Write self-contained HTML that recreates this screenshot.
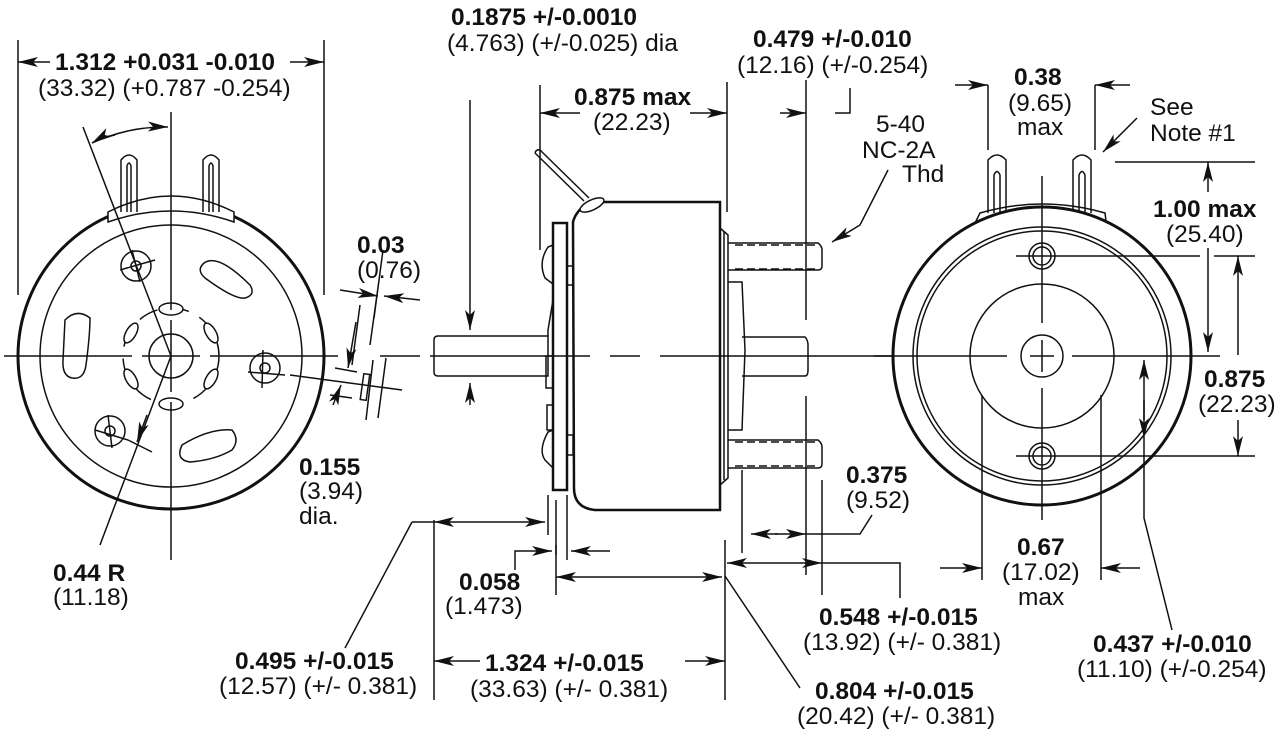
<!DOCTYPE html>
<html><head><meta charset="utf-8"><style>
html,body{margin:0;padding:0;background:#fff;width:1279px;height:735px;overflow:hidden}
svg{display:block}
text{font-family:"Liberation Sans",Arial,sans-serif;font-size:24.5px;fill:#111}
.b{font-weight:bold}
</style></head><body>
<svg width="1279" height="735" viewBox="0 0 1279 735" xmlns="http://www.w3.org/2000/svg">
<defs>
<marker id="a" viewBox="0 0 20 10" refX="20" refY="5" markerWidth="20" markerHeight="10" markerUnits="userSpaceOnUse" orient="auto">
<path d="M0,0 L20,5 L0,10 L5,5 Z" fill="#111"/></marker>
</defs>
<g fill="none" stroke="#111" stroke-width="1.5">
<!-- LEFT VIEW -->
<circle cx="171" cy="356" r="153" stroke-width="3"/>
<circle cx="171" cy="356" r="131"/>
<circle cx="171" cy="356" r="22"/>
<circle cx="171" cy="356" r="48" stroke-dasharray="20 12"/>
<path d="M108,212 Q171,180 234,212 L234,222 Q171,200 108,222 Z" fill="#fff"/>
<path d="M121,212 L121,160 Q129,150 137,160 L137,212 M127,212 L127,166 Q129,160 131,166 L131,212"/>
<path d="M203,212 L203,160 Q211,150 219,160 L219,212 M209,212 L209,166 Q211,160 213,166 L213,212"/>
<path d="M204,263 Q218,253 250,285 Q256,295 245,298 Q235,300 205,278 Q196,270 204,263 Z"/>
<path d="M65,320 Q77,308 90,318 Q90,335 86,365 Q84,380 72,378 Q62,376 63,360 Z"/>
<path d="M182,445 Q210,428 232,430 Q240,440 232,450 Q215,460 190,462 Q175,460 182,445 Z"/>
<ellipse cx="171" cy="309" rx="12" ry="6" fill="#fff"/><ellipse cx="171" cy="404" rx="12" ry="6" fill="#fff"/>
<ellipse cx="131" cy="333" rx="5" ry="11" transform="rotate(30 131 333)" fill="#fff"/><ellipse cx="211" cy="333" rx="5" ry="11" transform="rotate(-30 211 333)" fill="#fff"/>
<ellipse cx="131" cy="379" rx="5" ry="11" transform="rotate(-30 131 379)" fill="#fff"/><ellipse cx="211" cy="379" rx="5" ry="11" transform="rotate(30 211 379)" fill="#fff"/>
<circle cx="136" cy="266" r="15"/><circle cx="136" cy="266" r="5"/><circle cx="265" cy="368" r="15"/><circle cx="265" cy="368" r="5"/><circle cx="110" cy="431" r="15"/><circle cx="110" cy="431" r="5"/>
<path d="M120,270 L155,260 M132,250 L140,282 M248,372 L285,375 M263,350 L262,388 M95,430 L128,440 M108,415 L112,448 M128,440 L152,452"/>
<path d="M4,356 L132,356 M142,356 L200,356 M210,356 L338,356" />
<path d="M171,112 L171,310 M171,320 L171,392 M171,402 L171,560"/>
<path d="M83,127 L171,356 L100,545"/>
<path d="M147,415 L137,442" marker-end="url(#a)"/>
<path d="M115,135 Q100,138 92,143" marker-end="url(#a)"/>
<path d="M92,143 Q130,126 168,127" marker-end="url(#a)"/>
<path d="M18,40 L18,295 M324,40 L324,295"/>
<path d="M50,62 L18,62" marker-end="url(#a)"/>
<path d="M290,62 L324,62" marker-end="url(#a)"/>
<!-- .03 / .155 details -->
<path d="M352,365 L360,305 M370,345 L380,273 M383,250 L374,318"/>
<path d="M340,290 L378,296" marker-end="url(#a)"/><path d="M420,300 L384,296" marker-end="url(#a)"/>
<path d="M356,322 L348,368" marker-end="url(#a)"/><path d="M333,405 L341,385" marker-end="url(#a)"/>
<path d="M335,368 L357,372 M330,395 L352,398 M290,375 L402,390"/>
<rect x="362" y="374" width="6" height="26" transform="rotate(8 365 387)"/>
<path d="M366,420 L373,360 M378,418 L386,358"/>
<!-- SIDE VIEW -->
<path d="M380,356 L420,356 M430,356 L590,356 M610,356 L640,356 M660,356 L920,356"/>
<path d="M434,340 Q434,336 438,336 L548,336 L548,376 L438,376 Q434,376 434,372 Z"/>
<path d="M553,223 L567,223 L567,490 L553,490 Z" stroke-width="2.5"/>
<path d="M567,266 L573,266 L573,285 L567,285 M567,435 L573,435 L573,455 L567,455"/>
<path d="M573,222 Q576,210 590,202 L720,202 L720,510 L595,510 Q574,508 574,488 Z" stroke-width="2.5"/>
<path d="M553,245 L548,247 Q538,262 545,278 L553,284 M553,430 L548,432 Q538,450 545,460 L553,468"/>
<path d="M548,336 L548,330 L553,300"/>
<path d="M546,356 L553,356 L553,388 L546,388 Z M547,405 L553,405 L553,430 L547,430 Z"/>
<path d="M535,153 L584,201 M540,150 L589,198 M535,153 Q536,149 540,150"/>
<ellipse cx="592" cy="205" rx="13" ry="5" transform="rotate(-25 592 205)" fill="#fff"/>
<path d="M720,228 L728,235 L728,478 L720,485 M724,232 L724,480"/>
<path d="M728,282 L742,282 L745,350 L742,430 L728,430"/>
<path d="M742,337 L805,337 Q808,340 808,345 L808,370 Q808,376 805,376 L742,376"/>
<path d="M728,243 L818,243 Q822,246 822,250 L822,266 Q822,270 818,270 L728,270 M728,440 L818,440 Q822,443 822,447 L822,464 Q822,468 818,468 L728,468"/>
<path d="M735,245 L818,245 M735,269 L818,269 M735,442 L818,442 M735,466 L818,466" stroke-dasharray="8 4"/>
<!-- side dims -->
<path d="M540,85 L540,250 M727,82 L727,212 M806,80 L806,320 M806,396 L806,575 M434,520 L434,700 M725,540 L725,700"/>
<path d="M470,100 L470,330" marker-end="url(#a)"/><path d="M470,405 L470,383" marker-end="url(#a)"/>
<path d="M580,113 L540,113" marker-end="url(#a)"/><path d="M690,113 L727,113" marker-end="url(#a)"/>
<path d="M780,113 L806,113" marker-end="url(#a)"/><path d="M850,88 L850,113 L835,113" />
<path d="M490,522 L434,522" marker-end="url(#a)"/><path d="M490,522 L545,522" marker-end="url(#a)"/>
<path d="M548,495 L548,535 M556,500 L556,555 M567,495 L567,560"/>
<path d="M515,570 L515,551 L552,551" marker-end="url(#a)"/><path d="M610,551 L571,551" marker-end="url(#a)"/>
<path d="M556,545 L556,595"/>
<path d="M640,577 L556,577" marker-end="url(#a)"/><path d="M640,577 L722,577" marker-end="url(#a)"/>
<path d="M480,661 L434,661" marker-end="url(#a)"/><path d="M685,661 L725,661" marker-end="url(#a)"/>
<path d="M725,576 L800,688"/>
<path d="M412,522 L434,522 M412,522 L345,648"/>
<path d="M775,563 L727,563" marker-end="url(#a)"/><path d="M775,563 L822,563" marker-end="url(#a)"/>
<path d="M822,480 L822,595 M822,563 L900,563 L900,598"/>
<path d="M742,470 L742,553"/>
<path d="M778,534 L751,534" marker-end="url(#a)"/><path d="M775,534 L806,534" marker-end="url(#a)"/>
<path d="M806,534 L860,534 L872,515"/>
<path d="M888,170 L860,225 L832,242" marker-end="url(#a)"/>
<!-- RIGHT VIEW -->
<path d="M980,213 Q1042,195 1105,213 L1106,221 L976,221 Z" fill="#fff"/>
<path d="M988,213 L988,160 Q997,150 1006,160 L1006,213 M994,213 L994,175 Q997,168 1000,175 L1000,213"/>
<path d="M1073,213 L1073,160 Q1082,150 1091,160 L1091,213 M1079,213 L1079,175 Q1082,168 1085,175 L1085,213"/>
<circle cx="1042" cy="356" r="149" stroke-width="3" fill="#fff"/>
<circle cx="1042" cy="356" r="129"/><circle cx="1042" cy="356" r="125"/>
<circle cx="1042" cy="356" r="72"/><circle cx="1042" cy="356" r="21"/>
<circle cx="1042" cy="256" r="13"/><circle cx="1042" cy="256" r="9"/>
<circle cx="1042" cy="456" r="13"/><circle cx="1042" cy="456" r="9"/>
<path d="M1042,176 L1042,323 M1042,340 L1042,372 M1042,388 L1042,520 M874,356 L1007,356 M1030,356 L1054,356 M1072,356 L1220,356"/>
<path d="M1016,256 L1200,256 M1214,256 L1255,256 M1016,456 L1255,456"/>
<path d="M982,395 L982,580 M1101,395 L1101,580"/>
<path d="M940,568 L982,568" marker-end="url(#a)"/><path d="M1140,568 L1101,568" marker-end="url(#a)"/>
<path d="M988,85 L988,150 M1095,85 L1095,150"/>
<path d="M955,85 L988,85" marker-end="url(#a)"/><path d="M1130,85 L1095,85" marker-end="url(#a)"/>
<path d="M1137,118 L1103,152" marker-end="url(#a)"/>
<path d="M1115,162 L1255,162"/><path d="M1208,192 L1208,162" marker-end="url(#a)"/>
<path d="M1208,248 L1208,352" marker-end="url(#a)"/>
<path d="M1238,355 L1238,256" marker-end="url(#a)"/><path d="M1238,420 L1238,456" marker-end="url(#a)"/>
<path d="M1144,420 L1144,360" marker-end="url(#a)"/><path d="M1144,400 L1144,438" marker-end="url(#a)"/>
<path d="M1144,438 L1144,518 L1172,630"/>
</g>
<g>
<text x="55" y="70" class="b">1.312 +0.031 -0.010</text>
<text x="38" y="96">(33.32) (+0.787 -0.254)</text>
<text x="451" y="25" class="b">0.1875 +/-0.0010</text>
<text x="447" y="51">(4.763) (+/-0.025) dia</text>
<text x="574" y="105" class="b">0.875 max</text>
<text x="593" y="130">(22.23)</text>
<text x="753" y="47" class="b">0.479 +/-0.010</text>
<text x="737" y="73">(12.16) (+/-0.254)</text>
<text x="876" y="132">5-40</text>
<text x="862" y="158">NC-2A</text>
<text x="902" y="182">Thd</text>
<text x="1014" y="85" class="b">0.38</text>
<text x="1008" y="111">(9.65)</text>
<text x="1017" y="135">max</text>
<text x="1150" y="115">See</text>
<text x="1150" y="141">Note #1</text>
<text x="1153" y="217" class="b">1.00 max</text>
<text x="1166" y="242">(25.40)</text>
<text x="357" y="253" class="b">0.03</text>
<text x="357" y="278">(0.76)</text>
<text x="1204" y="387" class="b">0.875</text>
<text x="1198" y="412">(22.23)</text>
<text x="299" y="475" class="b">0.155</text>
<text x="299" y="499">(3.94)</text>
<text x="299" y="524">dia.</text>
<text x="846" y="483" class="b">0.375</text>
<text x="846" y="508">(9.52)</text>
<text x="53" y="581" class="b">0.44 R</text>
<text x="53" y="605">(11.18)</text>
<text x="1017" y="555" class="b">0.67</text>
<text x="1002" y="580">(17.02)</text>
<text x="1018" y="605">max</text>
<text x="459" y="590" class="b">0.058</text>
<text x="445" y="614">(1.473)</text>
<text x="819" y="625" class="b">0.548 +/-0.015</text>
<text x="803" y="650">(13.92) (+/- 0.381)</text>
<text x="1093" y="652" class="b">0.437 +/-0.010</text>
<text x="1077" y="677">(11.10) (+/-0.254)</text>
<text x="235" y="669" class="b">0.495 +/-0.015</text>
<text x="219" y="694">(12.57) (+/- 0.381)</text>
<text x="485" y="671" class="b">1.324 +/-0.015</text>
<text x="470" y="697">(33.63) (+/- 0.381)</text>
<text x="815" y="699" class="b">0.804 +/-0.015</text>
<text x="797" y="724">(20.42) (+/- 0.381)</text>
</g>
</svg>
</body></html>
